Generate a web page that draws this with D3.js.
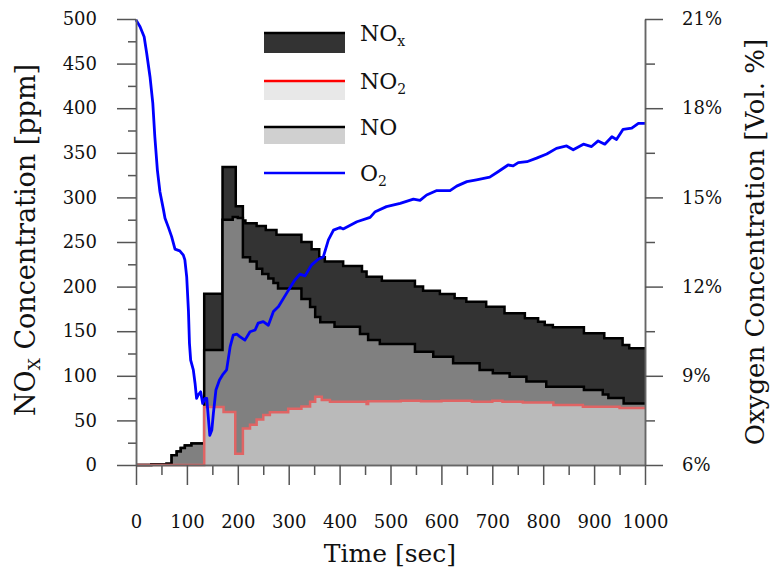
<!DOCTYPE html>
<html>
<head>
<meta charset="utf-8">
<script src="https://cdn.jsdelivr.net/npm/d3@7"></script>
<style>
  body { margin: 0; background: #fff; }
  text { font-family: "DejaVu Serif", serif; fill: #111; }
</style>
</head>
<body>
<div id="chart"></div>
<script>
// step series [time sec, ppm]
var noxSteps = [[0,0],[30,0.5],[60,1.5],[70,11],[80,15],[88,19],[96,22],[109,24],[134,192],[170,334],[196,290],[210,274],[215,271],[237,268],[255,263.5],[276,258],[325,250],[345,242],[360,233],[371,228],[407,223],[444,217],[453,211],[483,206.6],[548,200],[564,195.4],[597,191.7],[626,186.9],[649,183],[688,177.5],[724,170],[764,164.5],[790,160.7],[803,157],[819,154.3],[880,147.6],[920,142],[956,134.5],[969,130.8],[1000,130.8]];
var noSteps = [[0,0],[30,0.5],[60,1.5],[70,11],[80,15],[88,19],[96,22],[109,24],[134,129],[170,275],[190,278],[200,277],[210,233],[224,228],[237,220],[248,214],[260,209],[270,204],[279,198],[325,186],[342,177],[352,166],[362,160],[390,155],[440,147],[456,140],[479,135.7],[548,127],[584,121.4],[623,114],[675,106.5],[701,102.8],[734,99],[767,93.5],[806,87.8],[880,84],[917,79],[928,75],[958,69],[1000,69]];
var no2Steps = [[0,0],[134,65],[172,59.5],[195,12.5],[210,41],[224,45],[237,51],[250,56],[263,59],[299,63],[325,65.5],[342,71],[352,76.5],[365,73],[381,71],[450,71],[453,68.5],[456,71.5],[520,72],[560,71.5],[600,72],[660,71],[700,72],[720,71],[760,70],[820,67.3],[878,65.4],[950,64],[1000,64]];

// oxygen [time sec], [vol %]
var o2Time = [0,8,16,21,27.5,33,37,42,47,54,57,63.5,70,76.6,86,93,96,99.6,103,105,107.4,112.6,116,119,122,127,131,135.6,139,145,149,152,157,164,170,178,185,191,198,204,214,224,234,240,250,260,270,280,296,312,322,332,345,358,368,378,388,401,407,434,460,470,492,519,545,558,571,591,617,630,650,669,695,712,731,741,751,768,787,807,826,846,859,879,895,908,921,935,944,957,974,987,1000];
var o2Pct = [20.97,20.74,20.4,19.85,19.06,18.17,17.04,15.92,15.19,14.58,14.3,14.0,13.68,13.26,13.2,13.06,12.9,12.33,11.2,10.1,9.53,9.2,8.75,8.24,8.35,8.46,8.07,8.24,8.24,7.0,7.18,7.74,8.52,8.86,9.03,9.2,9.98,10.37,10.4,10.32,10.2,10.48,10.54,10.77,10.82,10.7,11.16,11.33,11.78,12.22,12.42,12.36,12.73,12.92,13.0,13.57,13.9,13.99,13.94,14.18,14.33,14.52,14.69,14.8,14.94,14.9,15.08,15.23,15.23,15.38,15.53,15.59,15.68,15.87,16.09,16.06,16.17,16.2,16.32,16.46,16.65,16.73,16.6,16.79,16.71,16.9,16.79,17.04,16.95,17.29,17.33,17.49,17.49];

var xTicks = d3.range(0, 1001, 100);
var yLeftTicks = d3.range(0, 501, 50);
var yRightTicks = [6, 9, 12, 15, 18, 21];

var w = 773, h = 571;

var x = d3.scaleLinear().domain([0, 1000]).range([136, 645]);
var yL = d3.scaleLinear().domain([0, 500]).range([465, 19]);
var yR = d3.scaleLinear().domain([6, 21]).range([465, 19]);

var svg = d3.select("#chart").append("svg")
    .attr("width", w)
    .attr("height", h);

var area = d3.area()
    .curve(d3.curveStepAfter)
    .x(d => x(d[0]))
    .y0(yL(0))
    .y1(d => yL(d[1]));
var line = d3.line()
    .curve(d3.curveStepAfter)
    .x(d => x(d[0]))
    .y(d => yL(d[1]));

// NOx (dark), NO (mid gray), NO2 (light gray) drawn over each other
svg.append("path").attr("d", area(noxSteps)).attr("fill", "#333");
svg.append("path").attr("d", line(noxSteps)).attr("fill", "none")
    .attr("stroke", "#000").attr("stroke-width", 2.5);
svg.append("path").attr("d", area(noSteps)).attr("fill", "#808080");
svg.append("path").attr("d", line(noSteps)).attr("fill", "none")
    .attr("stroke", "#000").attr("stroke-width", 2.5);
svg.append("path").attr("d", area(no2Steps)).attr("fill", "#bababa");
svg.append("path").attr("d", line(no2Steps)).attr("fill", "none")
    .attr("stroke", "#e06464").attr("stroke-width", 2.5);

// O2 line
var o2Line = d3.line()
    .x((d, i) => x(o2Time[i]))
    .y(d => yR(d));
svg.append("path").attr("d", o2Line(o2Pct)).attr("fill", "none")
    .attr("stroke", "#0000ff").attr("stroke-width", 2.8)
    .attr("stroke-linejoin", "round");

// axes
function styleAxis(g) {
    g.selectAll(".domain").attr("stroke", "#666").attr("stroke-width", 1.5);
    g.selectAll(".tick line").attr("stroke", "#555").attr("stroke-width", 1.5);
    g.selectAll("text").style("font-family", "DejaVu Serif").style("font-size", "18px").attr("fill", "#111");
}

svg.append("g").attr("transform", "translate(136,0)")
    .call(d3.axisLeft(yL).tickValues(d3.range(25, 500, 50)).tickSize(8).tickSizeOuter(0).tickFormat(""))
    .call(styleAxis);
svg.append("g").attr("transform", "translate(136,0)")
    .call(d3.axisLeft(yL).tickValues(yLeftTicks).tickSize(19).tickSizeOuter(0).tickPadding(20))
    .call(styleAxis);

svg.append("g").attr("transform", "translate(645,0)")
    .call(d3.axisRight(yR).tickValues([7.5, 10.5, 13.5, 16.5, 19.5]).tickSize(10).tickSizeOuter(0).tickFormat(""))
    .call(styleAxis);
svg.append("g").attr("transform", "translate(645,0)")
    .call(d3.axisRight(yR).tickValues(yRightTicks).tickSize(18).tickSizeOuter(0).tickPadding(19)
        .tickFormat(d => d + "%"))
    .call(styleAxis);

svg.append("g").attr("transform", "translate(0,465)")
    .call(d3.axisBottom(x).tickValues(d3.range(50, 1000, 100)).tickSize(10).tickSizeOuter(0).tickFormat(""))
    .call(styleAxis);
svg.append("g").attr("transform", "translate(0,465)")
    .call(d3.axisBottom(x).tickValues(xTicks).tickSize(20).tickSizeOuter(0).tickPadding(30)
        .tickFormat(d3.format("d")))
    .call(styleAxis);

// axis titles
var lt = svg.append("text")
    .attr("transform", "translate(35,240) rotate(-90)")
    .attr("text-anchor", "middle")
    .style("font-size", "27px");
lt.append("tspan").text("NO");
lt.append("tspan").text("X").style("font-size", "17px").attr("dy", 5);
lt.append("tspan").text(" Concentration [ppm]").attr("dy", -5);

svg.append("text")
    .attr("transform", "translate(764,242) rotate(-90)")
    .attr("text-anchor", "middle")
    .style("font-size", "26px")
    .text("Oxygen Concentration [Vol. %]");

svg.append("text")
    .attr("x", 390).attr("y", 562)
    .attr("text-anchor", "middle")
    .style("font-size", "25px")
    .text("Time [sec]");

// legend
var legend = [
    { name: "NO", sub: "x", line: "#000", fill: "#333", y: 33, h: 20 },
    { name: "NO", sub: "2", line: "#ff0000", fill: "#e8e8e8", y: 81, h: 19 },
    { name: "NO", sub: "", line: "#000", fill: "#d0d0d0", y: 127, h: 17 },
    { name: "O", sub: "2", line: "#0000ff", fill: null, y: 173, h: 0 }
];
legend.forEach(function (d) {
    if (d.fill) {
        svg.append("rect").attr("x", 264).attr("y", d.y).attr("width", 81).attr("height", d.h)
            .attr("fill", d.fill);
    }
    svg.append("line").attr("x1", 264).attr("x2", 345).attr("y1", d.y).attr("y2", d.y)
        .attr("stroke", d.line).attr("stroke-width", 2.5);
    var t = svg.append("text").attr("x", 360).attr("y", d.y + 8).style("font-size", "22px");
    t.append("tspan").text(d.name);
    if (d.sub) t.append("tspan").text(d.sub).style("font-size", "14px").attr("dy", 5);
});
</script>
</body>
</html>
